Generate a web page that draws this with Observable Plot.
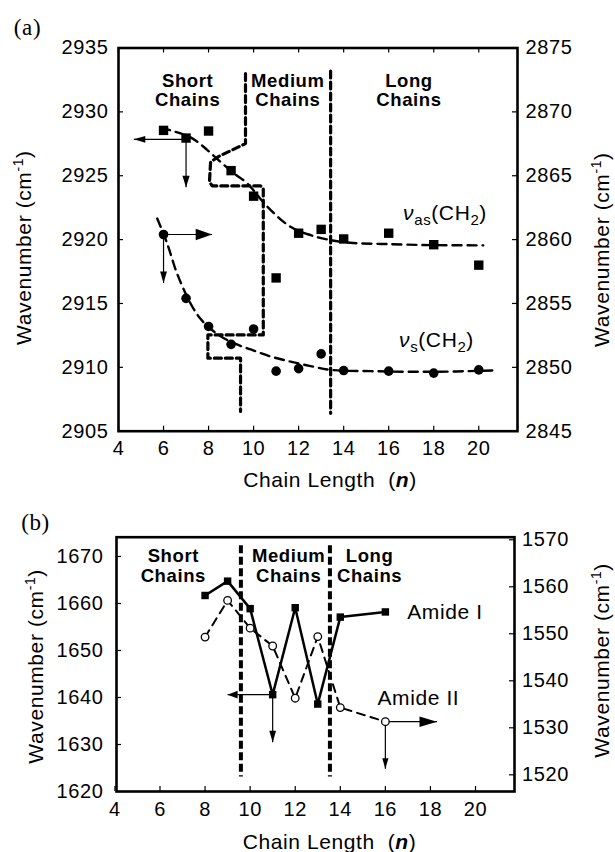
<!DOCTYPE html>
<html>
<head>
<meta charset="utf-8">
<script src="https://cdn.jsdelivr.net/npm/d3@7"></script>
<script src="https://cdn.jsdelivr.net/npm/@observablehq/plot@0.6"></script>
<style>
  html, body { margin: 0; padding: 0; background: #fff; }
  #chart { width: 615px; }
  #chart svg { display: block; }
</style>
</head>
<body>
<div id="chart"></div>
<script>
// ---------- shared ----------
const xTicks = [4, 6, 8, 10, 12, 14, 16, 18, 20];

// ---------- panel (a) data ----------
const chainA = [6, 7, 8, 9, 10, 11, 12, 13, 14, 16, 18, 20];
const nuAsCH2 = [2928.55, 2927.95, 2928.5, 2925.4, 2923.4, 2917.0, 2920.5, 2920.8, 2920.05, 2920.5, 2919.6, 2918.0]; // left axis
const nuSCH2 = [2860.4, 2855.4, 2853.2, 2851.8, 2853.0, 2849.7, 2849.9, 2851.05, 2849.75, 2849.7, 2849.55, 2849.8]; // right axis
const leftTicksA = [2905, 2910, 2915, 2920, 2925, 2930, 2935];
const rightTicksA = [2845, 2850, 2855, 2860, 2865, 2870, 2875];
const rightOffsetA = 60; // right axis value + 60 = left axis value

// dashed fitted curves
const asFitX = [5.9, 6.31, 7.2, 7.79, 8.39, 9.12, 9.72, 10.6, 11.64, 12.53, 13.42, 14.3, 15.9, 17.9, 20.2];
const asFitY = [2928.77, 2928.55, 2928.0, 2927.25, 2926.3, 2925.2, 2924.4, 2922.6, 2921.0, 2920.35, 2919.96, 2919.75, 2919.65, 2919.57, 2919.55];
const sFitX = [5.72, 6.16, 6.6, 7.2, 7.64, 8.24, 8.98, 9.87, 10.76, 11.64, 12.53, 13.42, 15.2, 17.9, 20.6];
const sFitY = [2861.65, 2859.7, 2857.35, 2855.0, 2853.8, 2852.8, 2852.0, 2851.4, 2850.85, 2850.45, 2850.1, 2849.8, 2849.7, 2849.65, 2849.75];

// region boundaries (a)
const stepX = [9.64, 9.64, 8.46, 8.09, 8.04, 8.16, 10.31, 10.43, 10.43, 7.97, 7.97, 9.42, 9.42];
const stepY = [2933.0, 2927.52, 2926.52, 2926.08, 2924.52, 2924.2, 2924.2, 2924.0, 2912.54, 2912.54, 2910.72, 2910.72, 2906.55];
const longAX = [13.42, 13.42];
const longAY = [2933.2, 2906.4];

// arrows (a): [x1, y1, x2, y2]
const arrowAsLeft = [7, 2927.85, 4.68, 2927.85];
const arrowAsDown = [7, 2927.85, 7, 2924.1];
const arrowSRight = [6, 2860.4, 8.16, 2860.4];   // right-axis units
const arrowSDown = [6, 2860.4, 6, 2856.6];       // right-axis units

const regionLabelsA = ["Short\nChains", "Medium\nChains", "Long\nChains"];
const regionXA = [7.07, 11.52, 16.9];
const regionYA = 2931.7;

// ---------- panel (b) data ----------
const chainB = [8, 9, 10, 11, 12, 13, 14, 16];
const amideI = [1661.7, 1664.75, 1658.9, 1640.6, 1659.1, 1638.6, 1657.1, 1658.2]; // left axis
const amideII = [1549.3, 1557.1, 1551.2, 1547.4, 1536.3, 1549.4, 1534.3, 1531.3]; // right axis
const leftTicksB = [1620, 1630, 1640, 1650, 1660, 1670];
const rightTicksB = [1520, 1530, 1540, 1550, 1560, 1570];
const rightOffsetB = 103.55;

const boundaryBX = [9.59, 13.54];
const boundaryBY = [1672.3, 1623.1];

const arrowIleft = [11, 1640.6, 9.0, 1640.6];
const arrowIdown = [11, 1640.6, 11, 1630.5];
const arrowIIright = [16, 1531.3, 18.29, 1531.3];   // right-axis units
const arrowIIdown = [16, 1531.3, 16, 1521.3];       // right-axis units

const regionLabelsB = ["Short\nChains", "Medium\nChains", "Long\nChains"];
const regionXB = [6.59, 11.71, 15.3];
const regionYB = 1668.0;

// ---------- helpers ----------
const FONT = "'Liberation Sans', Arial, Helvetica, sans-serif";
const SERIF = "'Liberation Serif', 'Times New Roman', serif";
const pts = (xs, ys, off = 0) => xs.map((x, i) => ({x, y: ys[i] + off}));
const seg = (a, off = 0) => [{x1: a[0], y1: a[1] + off, x2: a[2], y2: a[3] + off}];
const tri = {draw(ctx, l, r) { ctx.moveTo(0, -l); ctx.lineTo(r, 0); ctx.lineTo(-r, 0); ctx.closePath(); }};
function head(a, off, len, hw, rot) {
  return Plot.vector([{x: a[2], y: a[3] + off}], {
    x: "x", y: "y", length: len, r: hw, rotate: rot, anchor: "end",
    shape: tri, fill: "black", stroke: "none"
  });
}
function arrow(a, off, len, hw, rot, sw = 1.2) {
  return [
    Plot.link(seg(a, off), {x1: "x1", y1: "y1", x2: "x2", y2: "y2", stroke: "black", strokeWidth: sw}),
    head(a, off, len, hw, rot)
  ];
}
function innerTicks(xt, yl, yr, iw, ih, len, top) {
  const m = [
    Plot.tickX(xt, {x: d => d, insetTop: ih - len, stroke: "black", strokeWidth: 1.2}),
    Plot.tickY(yl, {y: d => d, insetRight: iw - len, stroke: "black", strokeWidth: 1.2}),
    Plot.tickY(yr, {y: d => d, insetLeft: iw - len, stroke: "black", strokeWidth: 1.2})
  ];
  if (top) m.push(Plot.tickX(xt, {x: d => d, insetBottom: ih - len, stroke: "black", strokeWidth: 1.2}));
  return m;
}
function rich(svg, match, parts) {
  d3.select(svg).selectAll("text").filter(function () { return this.textContent === match; })
    .each(function () {
      const t = d3.select(this);
      t.text(null);
      for (const p of parts) {
        const s = t.append("tspan").text(p.t);
        if (p.size) s.attr("font-size", p.size);
        if (p.dy) s.attr("dy", p.dy);
        if (p.italic) s.attr("font-style", "italic");
        if (p.bold) s.attr("font-weight", "bold");
      }
    });
}
const wavenumberParts = [{t: "Wavenumber (cm"}, {t: "-1", size: 14, dy: -8}, {t: ")", dy: 8}];
const chainParts = [{t: "Chain Length\u00a0\u00a0("}, {t: "n", italic: true, bold: true}, {t: ")"}];

const styleBase = {fontFamily: FONT, fontSize: "20px", color: "black", background: "white", overflow: "visible", letterSpacing: "0.6px"};

// ---------- panel (a) ----------
const mA = {w: 615, h: 500, l: 118, r: 98, t: 47.5, b: 69.3};
const iwA = mA.w - mA.l - mA.r, ihA = mA.h - mA.t - mA.b;
const plotA = Plot.plot({
  width: mA.w, height: mA.h,
  marginLeft: mA.l, marginRight: mA.r, marginTop: mA.t, marginBottom: mA.b,
  x: {domain: [4, 21.72]},
  y: {domain: [2905, 2935]},
  style: styleBase,
  marks: [
    Plot.axisX(xTicks, {anchor: "bottom", tickSize: 0, tickPadding: 10, tickFormat: d => String(d), label: null}),
    Plot.axisY(leftTicksA, {anchor: "left", tickSize: 0, tickPadding: 10, tickFormat: d => String(d), label: null}),
    Plot.axisY(rightTicksA.map(v => v + rightOffsetA), {anchor: "right", tickSize: 0, tickPadding: 8, tickFormat: d => String(d - rightOffsetA), label: null}),
    ...innerTicks(xTicks, leftTicksA, rightTicksA.map(v => v + rightOffsetA), iwA, ihA, 5, true),
    // boundaries
    Plot.line(pts(stepX, stepY), {x: "x", y: "y", stroke: "black", strokeWidth: 3.2, strokeDasharray: "7 4"}),
    Plot.line(pts(longAX, longAY), {x: "x", y: "y", stroke: "black", strokeWidth: 3.2, strokeDasharray: "7 4"}),
    // fitted curves
    Plot.line(pts(asFitX, asFitY), {x: "x", y: "y", curve: "catmull-rom", stroke: "black", strokeWidth: 2.4, strokeDasharray: "9 6"}),
    Plot.line(pts(sFitX, sFitY, rightOffsetA), {x: "x", y: "y", curve: "catmull-rom", stroke: "black", strokeWidth: 2.4, strokeDasharray: "9 6"}),
    // arrows
    ...arrow(arrowAsLeft, 0, 11.5, 3.4, 270),
    ...arrow(arrowAsDown, 0, 11.5, 3.6, 180),
    ...arrow(arrowSRight, rightOffsetA, 16.5, 5.8, 90, 1),
    ...arrow(arrowSDown, rightOffsetA, 11.5, 3.4, 180),
    // data
    Plot.dot(pts(chainA, nuAsCH2), {x: "x", y: "y", symbol: "square", r: 5.3, fill: "black", stroke: "none"}),
    Plot.dot(pts(chainA, nuSCH2, rightOffsetA), {x: "x", y: "y", symbol: "circle", r: 4.8, fill: "black", stroke: "none"}),
    // labels
    Plot.text(regionLabelsA, {x: (d, i) => regionXA[i], y: () => regionYA, text: d => d, fontWeight: "bold", fontSize: 18.5, lineHeight: 1.05}),
    Plot.text(["\u03bdas(CH2)"], {x: () => 16.64, y: () => 2922.1, text: d => d, textAnchor: "start", fontSize: 21}),
    Plot.text(["\u03bds(CH2)"], {x: () => 16.46, y: () => 2852.15 + rightOffsetA, text: d => d, textAnchor: "start", fontSize: 21}),
    Plot.text(["(a)"], {frameAnchor: "top-left", lineAnchor: "middle", text: d => d, dx: 27 - mA.l, dy: 27 - mA.t, fontFamily: SERIF, fontSize: 23, textAnchor: "middle", letterSpacing: "0px"}),
    Plot.text(["Wavenumber (cm-1)"], {frameAnchor: "left", lineAnchor: "middle", text: d => d, rotate: -90, dx: 24 - mA.l, dy: 8, fontSize: 21, textAnchor: "middle"}),
    Plot.text(["Wavenumber (cm-1)"], {frameAnchor: "right", lineAnchor: "middle", text: d => d, rotate: -90, dx: 602 - (mA.w - mA.r), dy: 10, fontSize: 21, textAnchor: "middle"}),
    Plot.text(["Chain Length  (n)"], {frameAnchor: "bottom", lineAnchor: "middle", text: d => d, dx: 12, dy: 49, fontSize: 21, textAnchor: "middle"}),
    Plot.frame({stroke: "black", strokeWidth: 2.6})
  ]
});

// ---------- panel (b) ----------
const mB = {w: 615, h: 352, l: 116, r: 101, t: 36.7, b: 61};
const iwB = mB.w - mB.l - mB.r, ihB = mB.h - mB.t - mB.b;
const plotB = Plot.plot({
  width: mB.w, height: mB.h,
  marginLeft: mB.l, marginRight: mB.r, marginTop: mB.t, marginBottom: mB.b,
  x: {domain: [4.07, 21.73]},
  y: {domain: [1620, 1674.1]},
  style: styleBase,
  marks: [
    Plot.axisX(xTicks, {anchor: "bottom", tickSize: 0, tickPadding: 10.5, tickFormat: d => String(d), label: null}),
    Plot.axisY(leftTicksB, {anchor: "left", tickSize: 0, tickPadding: 13, tickFormat: d => String(d), label: null}),
    Plot.axisY(rightTicksB.map(v => v + rightOffsetB), {anchor: "right", tickSize: 0, tickPadding: 7.5, tickFormat: d => String(Math.round(d - rightOffsetB)), label: null}),
    ...innerTicks(xTicks, leftTicksB, rightTicksB.map(v => v + rightOffsetB), iwB, ihB, 5, false),
    Plot.ruleX(boundaryBX, {x: d => d, y1: boundaryBY[0], y2: boundaryBY[1], stroke: "black", strokeWidth: 4, strokeDasharray: "8 3.5"}),
    Plot.line(pts(chainB, amideII, rightOffsetB), {x: "x", y: "y", stroke: "black", strokeWidth: 2, strokeDasharray: "8 6"}),
    Plot.line(pts(chainB, amideI), {x: "x", y: "y", stroke: "black", strokeWidth: 2.5}),
    ...arrow(arrowIleft, 0, 10, 3.8, 270),
    ...arrow(arrowIdown, 0, 11.5, 3.4, 180),
    ...arrow(arrowIIright, rightOffsetB, 17.5, 5.2, 90),
    ...arrow(arrowIIdown, rightOffsetB, 10.5, 3.1, 180),
    Plot.dot(pts(chainB, amideI), {x: "x", y: "y", symbol: "square", r: 4.2, fill: "black", stroke: "none"}),
    Plot.dot(pts(chainB, amideII, rightOffsetB), {x: "x", y: "y", symbol: "circle", r: 3.8, fill: "white", stroke: "black", strokeWidth: 1.3}),
    Plot.text(regionLabelsB, {x: (d, i) => regionXB[i], y: () => regionYB, text: d => d, fontWeight: "bold", fontSize: 18.5, lineHeight: 1.05}),
    Plot.text(["Amide I"], {x: () => 16.97, y: () => 1658.2, text: d => d, textAnchor: "start", fontSize: 21}),
    Plot.text(["Amide II"], {x: () => 15.65, y: () => 1639.8, text: d => d, textAnchor: "start", fontSize: 21}),
    Plot.text(["(b)"], {frameAnchor: "top-left", lineAnchor: "middle", text: d => d, dx: 35 - mB.l, dy: 21.7 - mB.t, fontFamily: SERIF, fontSize: 23, textAnchor: "middle", letterSpacing: "0px"}),
    Plot.text(["Wavenumber (cm-1)"], {frameAnchor: "left", lineAnchor: "middle", text: d => d, rotate: -90, dx: 36 - mB.l, dy: 2, fontSize: 21, textAnchor: "middle"}),
    Plot.text(["Wavenumber (cm-1)"], {frameAnchor: "right", lineAnchor: "middle", text: d => d, rotate: -90, dx: 602 - (mB.w - mB.r), dy: -4, fontSize: 21, textAnchor: "middle"}),
    Plot.text(["Chain Length  (n)"], {frameAnchor: "bottom", lineAnchor: "middle", text: d => d, dx: 14, dy: 51, fontSize: 21, textAnchor: "middle"}),
    Plot.frame({stroke: "black", strokeWidth: 2.6})
  ]
});

for (const svg of [plotA, plotB]) {
  rich(svg, "Wavenumber (cm-1)", wavenumberParts);
  rich(svg, "Chain Length  (n)", chainParts);
}
rich(plotA, "\u03bdas(CH2)", [{t: "\u03bd", italic: true}, {t: "as", size: 15, dy: 5}, {t: "(CH", dy: -5}, {t: "2", size: 15, dy: 5}, {t: ")", dy: -5}]);
rich(plotA, "\u03bds(CH2)", [{t: "\u03bd", italic: true}, {t: "s", size: 15, dy: 5}, {t: "(CH", dy: -5}, {t: "2", size: 15, dy: 5}, {t: ")", dy: -5}]);

document.getElementById("chart").append(plotA, plotB);
</script>
</body>
</html>
